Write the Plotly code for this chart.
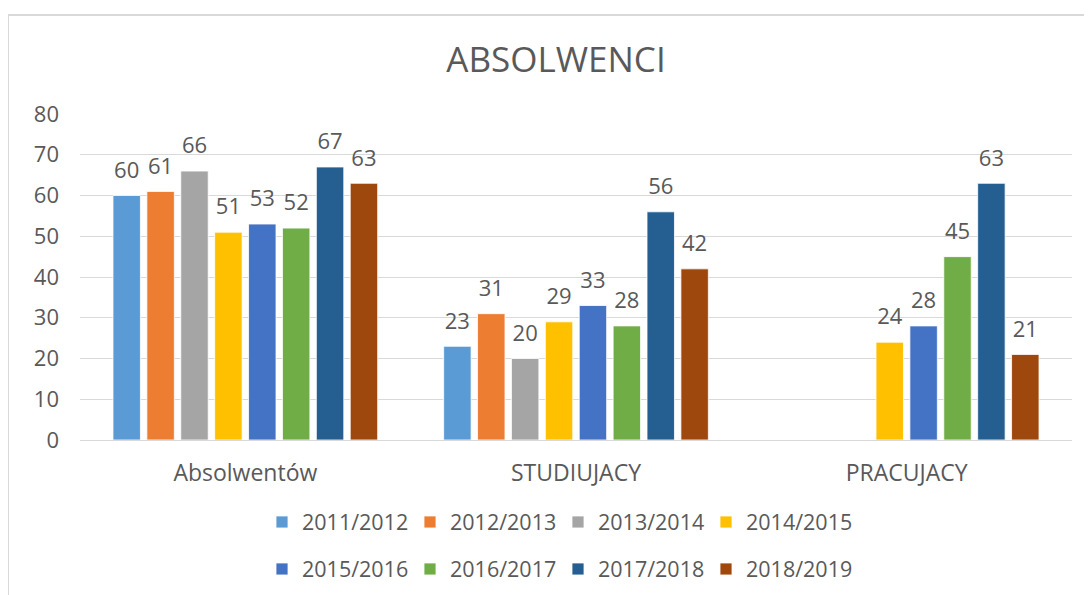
import plotly.graph_objects as go

categories = ["Absolwentów", "STUDIUJACY", "PRACUJACY"]
series_names = ["2011/2012", "2012/2013", "2013/2014", "2014/2015",
                "2015/2016", "2016/2017", "2017/2018", "2018/2019"]
s_2011_2012 = [60, 23, None]
s_2012_2013 = [61, 31, None]
s_2013_2014 = [66, 20, None]
s_2014_2015 = [51, 29, 24]
s_2015_2016 = [53, 33, 28]
s_2016_2017 = [52, 28, 45]
s_2017_2018 = [67, 56, 63]
s_2018_2019 = [63, 42, 21]
series_values = [s_2011_2012, s_2012_2013, s_2013_2014, s_2014_2015,
                 s_2015_2016, s_2016_2017, s_2017_2018, s_2018_2019]
colors = ["#5B9BD5", "#ED7D31", "#A5A5A5", "#FFC000",
          "#4472C4", "#70AD47", "#255E91", "#9E480E"]
y_ticks = [0, 10, 20, 30, 40, 50, 60, 70, 80]

FONT = "Open Sans"
TXT = "#595959"
BARGAP = 0.18

fig = go.Figure()
for i, (name, vals, col) in enumerate(zip(series_names, series_values, colors)):
    fig.add_trace(go.Bar(
        name=name, x=categories, y=vals,
        marker=dict(color=col, line=dict(color="rgba(255,255,255,0.8)", width=1)),
        offsetgroup=str(i),
        legend="legend" if i < 4 else "legend2",
        hoverinfo="skip",
    ))
# data labels, aligned with the grouped bars
for i, (name, vals) in enumerate(zip(series_names, series_values)):
    fig.add_trace(go.Scatter(
        x=categories, y=vals, mode="markers+text",
        text=[("" if v is None else str(v)) for v in vals],
        textposition="top center",
        textfont=dict(family=FONT, size=22, color=TXT),
        marker=dict(size=18, color="rgba(0,0,0,0)"),
        offsetgroup=str(i),
        showlegend=False, hoverinfo="skip", cliponaxis=False,
    ))

# page body has an 8px margin; work in screen coordinates
OFF = 8
W, H = 1092 - OFF, 595 - OFF
ml, mr = 80 - OFF, 20
mt, mb = 114 - OFF, 595 - 440
ph = H - mt - mb
pw = W - ml - mr

def py(sy):
    return (H - mb - (sy - OFF)) / ph

def pxx(sx):
    return ((sx - OFF) - ml) / pw

legend_common = dict(
    orientation="h", xanchor="center", yanchor="middle",
    font=dict(family=FONT, size=21.5, color=TXT),
    bgcolor="rgba(0,0,0,0)", itemclick=False, tracegroupgap=0,
    entrywidth=103,
)

fig.update_layout(
    width=W, height=H,
    margin=dict(l=ml, r=mr, t=mt, b=mb, autoexpand=False),
    paper_bgcolor="white", plot_bgcolor="white",
    barmode="group", bargap=BARGAP, bargroupgap=0.19,
    scattermode="group", scattergap=BARGAP,
    font=dict(family=FONT, color=TXT),
    title=dict(text="ABSOLWENCI", x=(556 - OFF) / W, xanchor="center",
               y=1 - (60 - OFF) / H, yanchor="middle",
               font=dict(family=FONT, size=35, color=TXT)),
    xaxis=dict(showgrid=False, showline=True, linecolor="#D9D9D9", linewidth=1,
               ticks="", tickfont=dict(family=FONT, size=23, color=TXT),
               ticklabelstandoff=12),
    yaxis=dict(range=[0, 80], tickvals=y_ticks, showgrid=True, gridcolor="#D9D9D9",
               gridwidth=1, zeroline=False, showline=False, ticks="",
               tickfont=dict(family=FONT, size=22, color=TXT),
               ticklabelstandoff=20),
    legend=dict(x=pxx(558), y=py(522), **legend_common),
    legend2=dict(x=pxx(558), y=py(569), **legend_common),
    shapes=[
        dict(type="line", xref="paper", yref="paper",
             x0=pxx(8), x1=pxx(8), y0=py(15), y1=py(600),
             line=dict(color="#D9D9D9", width=2)),
        dict(type="line", xref="paper", yref="paper",
             x0=pxx(8), x1=pxx(1100), y0=py(15), y1=py(15),
             line=dict(color="#D9D9D9", width=2)),
    ],
)

fig.write_html("out.html")
